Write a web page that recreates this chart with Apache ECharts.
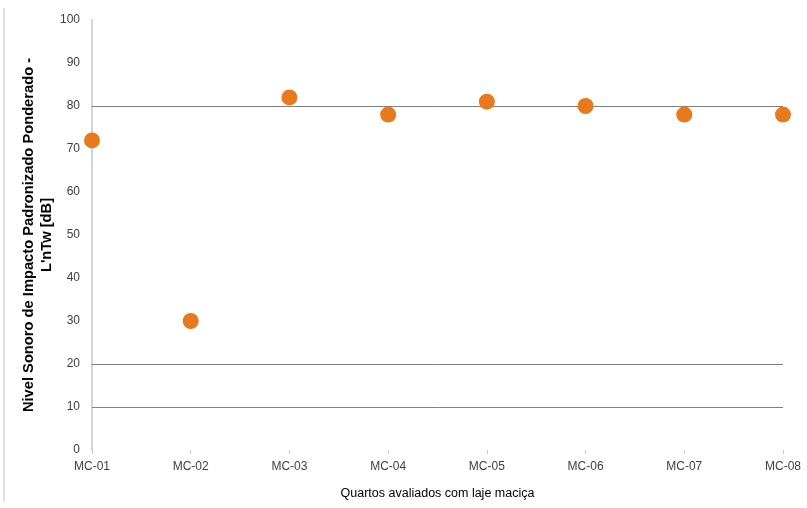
<!DOCTYPE html>
<html>
<head>
<meta charset="utf-8">
<script src="https://cdn.jsdelivr.net/npm/echarts@6/dist/echarts.min.js"></script>
<style>html,body{margin:0;padding:0;background:#fff;}#c{width:807px;height:508px;}</style>
</head>
<body>
<div id="c"></div>
<script>
const categories = ['MC-01','MC-02','MC-03','MC-04','MC-05','MC-06','MC-07','MC-08'];
const values = [72, 30, 82, 78, 81, 80, 78, 78];
const referenceLines = [10, 20, 80];
const yTitle = "Nivel Sonoro de Impacto Padronizado Ponderado -\nL'nTw [dB]";
const xTitle = 'Quartos avaliados com laje maciça';

const chart = echarts.init(document.getElementById('c'), null, {renderer: 'canvas'});
chart.setOption({
  animation: false,
  backgroundColor: '#fff',
  textStyle: {fontFamily: 'Liberation Sans, Arial, sans-serif'},
  grid: {left: 92, right: 24, top: 20, bottom: 58, containLabel: false},
  graphic: [{
    type: 'line', shape: {x1: 4, y1: 8, x2: 4, y2: 502},
    style: {stroke: '#c0c0c0', lineWidth: 1}
  }],
  xAxis: {
    type: 'category',
    data: categories,
    boundaryGap: false,
    name: xTitle,
    nameLocation: 'middle',
    nameGap: 37,
    nameMoveOverlap: false,
    nameTextStyle: {color: '#000', fontSize: 12.5, fontFamily: 'Liberation Sans, Arial, sans-serif'},
    axisLine: {show: false},
    axisTick: {show: true, length: 4, lineStyle: {color: '#c8c8c8'}},
    axisLabel: {color: '#404040', fontSize: 12, margin: 11},
    splitLine: {show: false}
  },
  yAxis: {
    type: 'value',
    min: 0, max: 100, interval: 10,
    name: yTitle,
    nameLocation: 'middle',
    nameRotate: 90,
    nameGap: 36,
    nameMoveOverlap: false,
    nameTextStyle: {color: '#000', fontSize: 14.7, fontWeight: 'bold', lineHeight: 18, align: 'center', fontFamily: 'Liberation Sans, Arial, sans-serif'},
    axisLine: {show: true, lineStyle: {color: '#d4d4d4', width: 2}},
    axisTick: {show: false},
    axisLabel: {color: '#404040', fontSize: 12, margin: 12},
    splitLine: {show: false}
  },
  series: [{
    type: 'scatter',
    data: values,
    symbol: 'circle',
    symbolSize: 16,
    itemStyle: {color: '#E8791D', opacity: 1},
    z: 5,
    markLine: {
      silent: true,
      symbol: ['none', 'none'],
      label: {show: false},
      lineStyle: {color: '#808080', width: 1, type: 'solid'},
      data: referenceLines.map(v => ({yAxis: v})),
      z: 1
    }
  }]
});
</script>
</body>
</html>
